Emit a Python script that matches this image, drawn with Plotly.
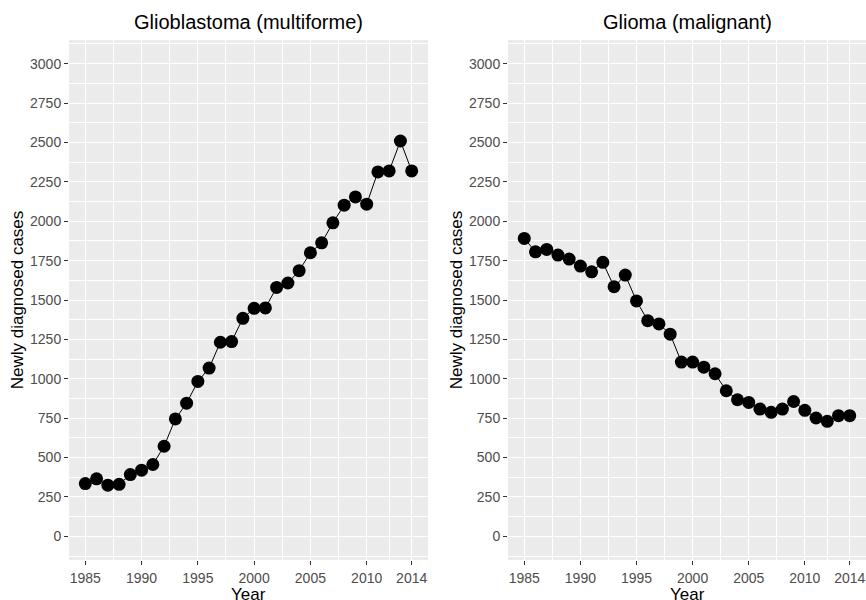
import plotly.graph_objects as go

years = list(range(1985, 2015))
glioblastoma = [335, 365, 325, 330, 392, 420, 456, 572, 745, 845, 983, 1068, 1232, 1236,
                1384, 1447, 1450, 1580, 1608, 1686, 1800, 1863, 1990, 2102, 2154, 2108,
                2313, 2319, 2509, 2319]
glioma = [1891, 1806, 1821, 1785, 1760, 1715, 1679, 1739, 1584, 1658, 1494, 1369, 1348,
          1283, 1106, 1106, 1074, 1032, 924, 867, 850, 808, 787, 808, 856, 800, 751, 730,
          766, 766]

titles = ["Glioblastoma (multiforme)", "Glioma (malignant)"]
x_title = "Year"
y_title = "Newly diagnosed cases"
x_ticks = [1985, 1990, 1995, 2000, 2005, 2010, 2014]
x_minor = [1987.5, 1992.5, 1997.5, 2002.5, 2007.5, 2012]
y_ticks = [0, 250, 500, 750, 1000, 1250, 1500, 1750, 2000, 2250, 2500, 2750, 3000]
y_minor = [-125, 125, 375, 625, 875, 1125, 1375, 1625, 1875, 2125, 2375, 2625, 2875, 3125]

W, H = 866, 600
ML, MR, MT, MB = 69, 0, 40, 40
pw = W - ML - MR
d1 = [0, 359 / pw]
d2 = [439 / pw, 1]

fig = go.Figure()
for i, (vals, t) in enumerate([(glioblastoma, titles[0]), (glioma, titles[1])]):
    sfx = "" if i == 0 else "2"
    fig.add_trace(go.Scatter(
        x=years, y=vals, mode="lines+markers",
        line=dict(color="black", width=1),
        marker=dict(color="black", size=13),
        xaxis="x" + sfx, yaxis="y" + sfx, showlegend=False,
    ))

axis_common = dict(
    showgrid=True, gridcolor="white", gridwidth=1.1, zeroline=False,
    ticks="outside", ticklen=4, tickwidth=1, tickcolor="#333333",
    tickfont=dict(family="Liberation Sans, Arial", size=14, color="#4d4d4d"),
    showline=False, automargin=False,
)

fig.update_layout(
    width=W, height=H,
    margin=dict(l=ML, r=MR, t=MT, b=MB),
    paper_bgcolor="white", plot_bgcolor="#EBEBEB",
    font=dict(family="Liberation Sans, Arial", color="black"),
)

for i, dom in enumerate([d1, d2]):
    sfx = "" if i == 0 else "2"
    xa = dict(axis_common, domain=dom, range=[1983.55, 2015.45], tickvals=x_ticks,
              anchor="y" + sfx, ticklabelstandoff=1,
              minor=dict(tickvals=x_minor, showgrid=True, gridcolor="white", gridwidth=0.5, ticklen=0))
    ya = dict(axis_common, domain=[0, 1], range=[-150, 3150], tickvals=y_ticks,
              anchor="x" + sfx,
              minor=dict(tickvals=y_minor, showgrid=True, gridcolor="white", gridwidth=0.5, ticklen=0),
              title=dict(text=y_title, font=dict(size=17, color="black"), standoff=2))
    fig.update_layout({"xaxis" + sfx: xa, "yaxis" + sfx: ya})
    fig.add_annotation(
        x=(dom[0] + dom[1]) / 2, y=1, xref="paper", yref="paper",
        xanchor="center", yanchor="middle", yshift=18, showarrow=False,
        text=titles[i], font=dict(size=20, color="black"),
    )
    fig.add_annotation(
        x=(dom[0] + dom[1]) / 2, y=0, xref="paper", yref="paper",
        xanchor="center", yanchor="middle", yshift=-34, showarrow=False,
        text=x_title, font=dict(size=17, color="black"),
    )

fig.write_html("out.html", config={"displayModeBar": False},
               post_script="document.body.style.margin='0';")
